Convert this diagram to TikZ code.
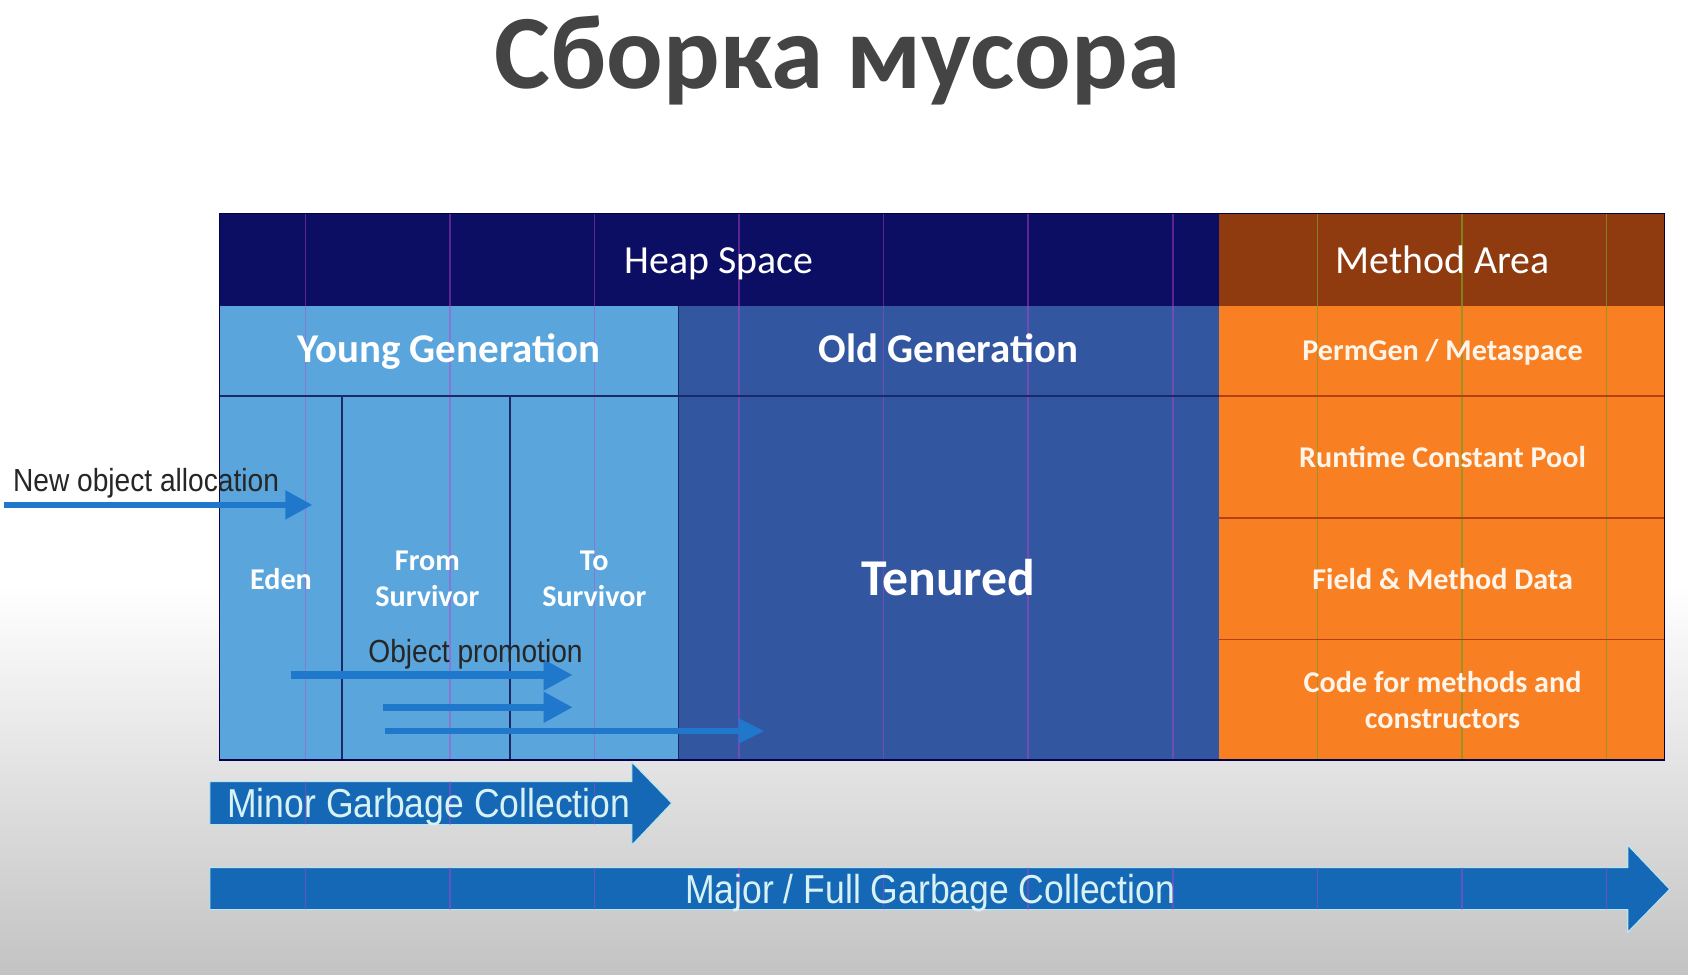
\documentclass[tikz,border=0pt]{standalone}
\usepackage{fontspec}
\setmainfont{Carlito}
\newfontfamily\arialn{Liberation Sans}[FakeStretch=0.88]
\usetikzlibrary{arrows.meta}

\definecolor{titlegray}{HTML}{444444}
\definecolor{heapnavy}{HTML}{0C0E63}
\definecolor{methodbrown}{HTML}{903A10}
\definecolor{younggen}{HTML}{5AA5DC}
\definecolor{oldgen}{HTML}{3356A0}
\definecolor{methodorange}{HTML}{F87F22}
\definecolor{rowline}{HTML}{B4420E}
\definecolor{celldiv}{HTML}{1B2A66}
\definecolor{flowblue}{HTML}{1F78CC}
\definecolor{gcblue}{HTML}{1568B6}
\definecolor{gcedge}{HTML}{B8E6EE}
\definecolor{gctext}{HTML}{D8F2F4}
\definecolor{gridmag}{HTML}{C040D0}
\definecolor{gridolive}{HTML}{7E9A22}
\definecolor{bgmid}{HTML}{E4E4E4}
\definecolor{bgbot}{HTML}{C3C3C3}

\tikzset{
  hdrlabel/.style={text=white, inner sep=0pt, anchor=base,
    font=\fontsize{37}{44}\selectfont},
  genlabel/.style={text=white, inner sep=0pt, anchor=base,
    font=\fontsize{38}{44}\selectfont\bfseries},
  celllabel/.style={text=white, inner sep=0pt, anchor=base,
    font=\fontsize{28}{33}\selectfont\bfseries, align=center},
  arealabel/.style={text=white!92!orange, inner sep=0pt, anchor=base,
    font=\fontsize{28}{34}\selectfont\bfseries, align=center},
  flowlabel/.style={text=black!85, inner sep=0pt, anchor=base,
    font=\arialn\fontsize{29.7}{34}\selectfont},
  gclabel/.style={text=gctext, inner sep=0pt, anchor=base,
    font=\arialn\fontsize{37.5}{44}\selectfont},
  gcshape/.style={fill=gcblue, draw=gcedge, line width=1pt, line join=miter},
  flowarrow/.style={draw=flowblue, line width=5pt,
    -{Triangle[length=25pt, width=26pt]}},
  promoarrow/.style={draw=flowblue, line width=7pt,
    -{Triangle[length=27pt, width=27pt]}},
  gridline/.style={line width=1.4pt},
}

\begin{document}
\begin{tikzpicture}[x=1pt, y=-1pt]
  % page and background
  \useasboundingbox (0,0) rectangle (1568,905);
  \fill[white] (0,0) rectangle (1568,545);
  \shade[top color=white, middle color=bgmid, bottom color=bgbot]
    (0,544) rectangle (1568,905);

  % title
  \node[anchor=base, inner sep=0pt, text=titlegray,
        font=\fontsize{98}{110}\selectfont\bfseries] (title) at (778,82) {Сборка мусора};

  % heap and method area blocks
  \fill[heapnavy]     (204,198) rectangle (1132,284);
  \fill[methodbrown]  (1132,198) rectangle (1546,284);
  \fill[younggen]     (204,284) rectangle (630,706);
  \fill[oldgen]       (630,284) rectangle (1132,706);
  \fill[methodorange] (1132,284) rectangle (1546,706);

  % guide lines over the coloured blocks
  \begin{scope}
    \clip (204,198) rectangle (1132,706);
    \foreach \gx in {283.6,417.9,552.2,686.5,820.8,955.1,1089.4}
      \draw[gridline, gridmag, opacity=0.45] (\gx,198) -- (\gx,706);
  \end{scope}
  \begin{scope}
    \clip (1132,198) rectangle (1546,706);
    \foreach \gx in {1223.7,1358,1492.3}
      \draw[gridline, gridolive, opacity=0.75] (\gx,198) -- (\gx,706);
  \end{scope}

  % cell dividers
  \draw[celldiv, line width=1.6pt] (204,368) -- (1132,368);
  \draw[celldiv, line width=1.6pt] (318,368) -- (318,706);
  \draw[celldiv, line width=1.6pt] (474,368) -- (474,706);
  \draw[celldiv, line width=1.2pt] (630,284) -- (630,706);
  \foreach \ry in {368,481,594}
    \draw[rowline, line width=1.6pt] (1132,\ry) -- (1546,\ry);
  \draw[black!70!blue, line width=1.2pt] (204,198) rectangle (1546,706);

  % block labels
  \node[hdrlabel] (heap)   at (668,254) {Heap Space};
  \node[hdrlabel] (method) at (1340,254) {Method Area};
  \node[genlabel] (young)  at (417,337) {Young Generation};
  \node[genlabel] (old)    at (881,337) {Old Generation};
  \node[celllabel] (eden)  at (261,548) {Eden};
  \node[celllabel] (from)  at (397,563) {From\\Survivor};
  \node[celllabel] (to)    at (552,563) {To\\Survivor};
  \node[genlabel, font=\fontsize{48}{54}\selectfont\bfseries] (tenured) at (881,553) {Tenured};
  \node[arealabel] (perm)    at (1340,335) {PermGen / Metaspace};
  \node[arealabel] (runtime) at (1340,434) {Runtime Constant Pool};
  \node[arealabel] (field)   at (1340,548) {Field \& Method Data};
  \node[arealabel] (code)    at (1340,677) {Code for methods and\\constructors};

  % allocation and promotion arrows
  \coordinate (allocS) at (4,469);
  \coordinate (allocE) at (290,469);
  \draw[flowarrow] (allocS) -- (allocE);
  \node[flowlabel, anchor=base west] (alloc) at (12,457) {New object allocation};

  \coordinate (p1s) at (270,627); \coordinate (p1e) at (532,627);
  \coordinate (p2s) at (356,657); \coordinate (p2e) at (532,657);
  \coordinate (p3s) at (358,679); \coordinate (p3e) at (710,679);
  \draw[promoarrow] (p1s) -- (p1e);
  \draw[promoarrow] (p2s) -- (p2e);
  \draw[flowblue, line width=5.5pt, -{Triangle[length=24pt, width=22pt]}] (p3s) -- (p3e);
  \node[flowlabel, anchor=base west] (promo) at (342,615) {Object promotion};

  % garbage collection arrows
  \path[gcshape] (195,726) -- (587,726) -- (587,708) -- (624,746)
    -- (587,785) -- (587,766) -- (195,766) -- cycle;
  \path[gcshape] (195,806) -- (1512,806) -- (1512,785) -- (1551,826)
    -- (1512,866) -- (1512,845) -- (195,845) -- cycle;
  \begin{scope}
    \clip (195,726) rectangle (624,766) (195,806) rectangle (1551,845);
    \foreach \gx in {283.6,417.9,552.2,686.5,820.8,955.1,1089.4,1223.7,1358,1492.3}
      \draw[gridline, gridmag, opacity=0.45] (\gx,700) -- (\gx,870);
  \end{scope}
  \node[gclabel, anchor=base west] (minor) at (211,759) {Minor Garbage Collection};
  \node[gclabel] (major) at (864,839) {Major / Full Garbage Collection};
\end{tikzpicture}
\end{document}
